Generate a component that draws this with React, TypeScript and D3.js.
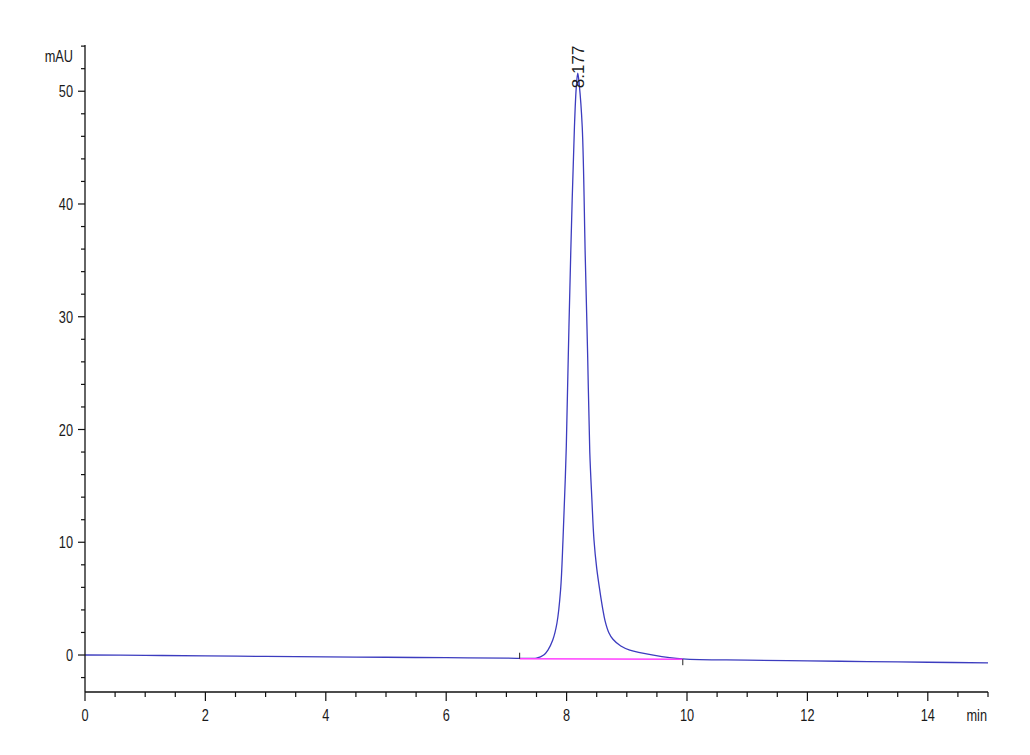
import React from "react";
import * as d3 from "d3";

const traceTime = [0, 1, 2, 3, 4, 5, 6, 7, 7.4, 7.5, 7.62, 7.69, 7.77, 7.84, 7.9, 7.94, 7.995, 8.03, 8.07, 8.13, 8.16, 8.185, 8.21, 8.26, 8.31, 8.35, 8.385, 8.42, 8.455, 8.5, 8.555, 8.6, 8.64, 8.7, 8.77, 8.9, 9.05, 9.44, 9.93, 11, 12, 13, 14, 15];
const traceValue = [0.0, -0.03, -0.08, -0.12, -0.16, -0.2, -0.24, -0.28, -0.3, -0.28, 0.0, 0.44, 1.33, 2.84, 5.76, 10.2, 18.5, 27.0, 35.9, 46.8, 50.3, 51.6, 50.6, 46.8, 35.3, 26.5, 18.0, 13.8, 10.2, 7.7, 5.6, 4.1, 3.0, 2.0, 1.4, 0.8, 0.44, 0.0, -0.35, -0.45, -0.52, -0.58, -0.64, -0.7];

const integrationStart = [7.22, -0.33];
const integrationEnd = [9.93, -0.37];
const peakLabel = "8.177";
const peakTime = 8.177;
const peakValue = 51.6;

const xMajorTicks = [0, 2, 4, 6, 8, 10, 12, 14];
const yMajorTicks = [0, 10, 20, 30, 40, 50];
const xUnit = "min";
const yUnit = "mAU";

const W = 1030;
const H = 755;

export default function App() {
  const x = d3.scaleLinear().domain([0, 15]).range([85, 988]);
  const y = d3.scaleLinear().domain([-3.28, 54.1]).range([692, 45]);

  const xMinor = d3.range(0, 15.01, 0.5).filter((t) => !xMajorTicks.includes(t));
  const yMinor = d3.range(-2, 54.1, 2).filter((v) => !yMajorTicks.includes(v));

  const pts: [number, number][] = traceTime.map((t, i) => [t, traceValue[i]]);
  const line = d3
    .line<[number, number]>()
    .x((d) => x(d[0]))
    .y((d) => y(d[1]))
    .curve(d3.curveCatmullRom.alpha(0.5));

  const font = "'Liberation Sans', Arial, sans-serif";
  const textColor = "#1a1a1a";
  const fs = 17;

  return (
    <svg
      width={W}
      height={H}
      style={{ position: "absolute", left: 0, top: 0, background: "#fff" }}
      fontFamily={font}
    >
      <rect x={0} y={0} width={W} height={H} fill="#fff" />
      {/* trace */}
      <path d={line(pts) || ""} fill="none" stroke="#3c3cbf" strokeWidth={1.3} />
      {/* integration baseline */}
      <line
        x1={x(integrationStart[0])}
        y1={y(integrationStart[1])}
        x2={x(integrationEnd[0])}
        y2={y(integrationEnd[1])}
        stroke="#ff40ff"
        strokeWidth={1.4}
      />
      <line
        x1={x(integrationStart[0])}
        y1={y(integrationStart[1])}
        x2={x(integrationStart[0])}
        y2={y(integrationStart[1]) - 6}
        stroke="#222"
        strokeWidth={1}
      />
      <line
        x1={x(integrationEnd[0])}
        y1={y(integrationEnd[1])}
        x2={x(integrationEnd[0])}
        y2={y(integrationEnd[1]) + 6}
        stroke="#222"
        strokeWidth={1}
      />
      {/* peak label */}
      <text
        transform={`translate(${x(peakTime) + 7},${y(peakValue) + 15}) rotate(-90)`}
        fontSize={17}
        fill={textColor}
      >
        {peakLabel}
      </text>

      {/* y axis */}
      <line x1={85} x2={85} y1={45} y2={692} stroke="#111" strokeWidth={1.3} />
      {yMajorTicks.map((v) => (
        <g key={"ym" + v}>
          <line x1={78} x2={85} y1={y(v)} y2={y(v)} stroke="#111" strokeWidth={1.2} />
          <text
            transform={`translate(73,${y(v) + 6}) scale(0.75,1)`}
            textAnchor="end"
            fontSize={fs}
            fill={textColor}
          >
            {v}
          </text>
        </g>
      ))}
      {yMinor.map((v) => (
        <line key={"yn" + v} x1={81} x2={85} y1={y(v)} y2={y(v)} stroke="#111" strokeWidth={1.2} />
      ))}
      <text
        transform={`translate(73,62) scale(0.75,1)`}
        textAnchor="end"
        fontSize={fs}
        fill={textColor}
      >
        {yUnit}
      </text>

      {/* x axis */}
      <line x1={85} x2={988} y1={692} y2={692} stroke="#111" strokeWidth={1.3} />
      {xMajorTicks.map((t) => (
        <g key={"xm" + t}>
          <line x1={x(t)} x2={x(t)} y1={692} y2={701} stroke="#111" strokeWidth={1.2} />
          <text
            transform={`translate(${x(t)},721) scale(0.75,1)`}
            textAnchor="middle"
            fontSize={fs}
            fill={textColor}
          >
            {t}
          </text>
        </g>
      ))}
      {xMinor.map((t) => (
        <line key={"xn" + t} x1={x(t)} x2={x(t)} y1={692} y2={697} stroke="#111" strokeWidth={1.2} />
      ))}
      <text
        transform={`translate(987,721) scale(0.75,1)`}
        textAnchor="end"
        fontSize={fs}
        fill={textColor}
      >
        {xUnit}
      </text>
    </svg>
  );
}
